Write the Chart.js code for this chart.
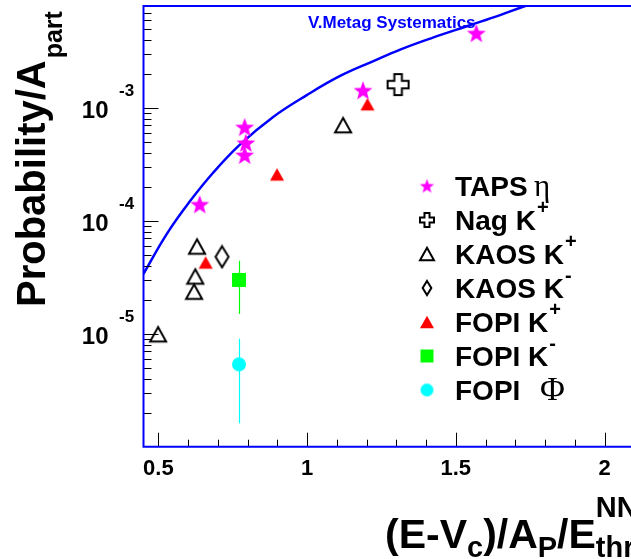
<!DOCTYPE html>
<html lang="en">
<head>
<meta charset="UTF-8">
<title>Production probability per participant</title>
<script src="https://cdn.jsdelivr.net/npm/chart.js"></script>
<style>
  html, body { margin: 0; padding: 0; background: #fff; overflow: hidden; }
  #wrap { width: 631px; height: 559px; overflow: hidden; }
  canvas { display: block; }
</style>
</head>
<body>
<div id="wrap"><canvas id="chart" width="700" height="559"></canvas></div>
<script>
// x = (E-Vc)/A_P/E_thr^NN, y = probability per participant
const tapsX = [0.639, 0.790, 0.794, 0.790, 1.188, 1.569];
const tapsY = [1.40e-4, 3.83e-4, 4.91e-4, 6.76e-4, 1.43e-3, 4.59e-3];
const nagX = [1.306];
const nagY = [1.61e-3];
const kaosKpX = [0.499, 0.620, 0.624, 0.630, 1.121];
const kaosKpY = [9.9e-6, 2.36e-5, 3.22e-5, 5.93e-5, 7.04e-4];
const kaosKmX = [0.714];
const kaosKmY = [4.81e-5];
const fopiKpX = [0.659, 0.899, 1.203];
const fopiKpY = [4.28e-5, 2.58e-4, 1.08e-3];
const fopiKmX = [0.771];
const fopiKmY = [3.0e-5];
const fopiKmLo = [1.50e-5];
const fopiKmHi = [4.43e-5];
const fopiPhiX = [0.771];
const fopiPhiY = [5.36e-6];
const fopiPhiLo = [1.61e-6];
const fopiPhiHi = [9.04e-6];

// systematics curve
const sysX = [0.450, 0.528, 0.606, 0.684, 0.775, 0.886, 0.999, 1.111, 1.223, 1.313, 1.423, 1.537, 1.649, 1.726, 1.817];
const sysY = [3.4e-5, 7.64e-5, 1.49e-4, 2.67e-4, 4.76e-4, 8.33e-4, 1.30e-3, 1.92e-3, 2.60e-3, 3.29e-3, 4.20e-3, 5.30e-3, 6.65e-3, 7.87e-3, 9.36e-3];

const xTicks = [0.5, 1, 1.5, 2];
const xTickLabels = ['0.5', '1', '1.5', '2'];
const yTicks = [1e-5, 1e-4, 1e-3];
const yTickExp = ['-5', '-4', '-3'];

const legendNames = ['TAPS', 'Nag K', 'KAOS K', 'KAOS K', 'FOPI K', 'FOPI K', 'FOPI'];
const legendSup = ['', '+', '+', '-', '+', '-', ''];
const legendGreek = ['\u03b7', '', '', '', '', '', '\u03a6'];

const SANS = '"Liberation Sans", Arial, Helvetica, sans-serif';
const SERIF = '"Liberation Serif", "Times New Roman", serif';

// marker images (ROOT-like symbols)
function marker(kind, size, color) {
  const c = document.createElement('canvas');
  const s = Math.ceil(size) + 4;
  c.width = s; c.height = s;
  const g = c.getContext('2d');
  const m = s / 2, r = size / 2;
  g.lineWidth = 2;
  g.strokeStyle = '#000';
  g.fillStyle = color;
  g.lineJoin = 'miter';
  g.beginPath();
  if (kind === 'star') {
    for (let i = 0; i < 10; i++) {
      const a = -Math.PI / 2 + i * Math.PI / 5;
      const rr = i % 2 ? r * 0.42 : r;
      g.lineTo(m + rr * Math.cos(a), m + rr * Math.sin(a) + r * 0.08);
    }
    g.closePath();
    g.fill();
  } else if (kind === 'cross') {
    const w = r * 0.36;
    const pts = [[-w, -r], [w, -r], [w, -w], [r, -w], [r, w], [w, w], [w, r], [-w, r], [-w, w], [-r, w], [-r, -w], [-w, -w]];
    pts.forEach(p => g.lineTo(m + p[0], m + p[1]));
    g.closePath();
    g.fillStyle = '#fff';
    g.fill();
    g.stroke();
  } else if (kind === 'triOpen' || kind === 'triFill') {
    const h = r * 0.9;
    g.moveTo(m, m - h);
    g.lineTo(m + r, m + h);
    g.lineTo(m - r, m + h);
    g.closePath();
    if (kind === 'triOpen') g.stroke(); else g.fill();
  } else if (kind === 'diamond') {
    const w = r * 0.62;
    g.moveTo(m, m - r);
    g.lineTo(m + w, m);
    g.lineTo(m, m + r);
    g.lineTo(m - w, m);
    g.closePath();
    g.stroke();
  } else if (kind === 'square') {
    g.rect(m - r, m - r, size, size);
    g.fill();
  } else if (kind === 'circle') {
    g.arc(m, m, r, 0, Math.PI * 2);
    g.fill();
  }
  return c;
}

const dataMarkers = [
  marker('star', 20, '#ff00ff'),
  marker('cross', 21, '#000'),
  marker('triOpen', 16, '#000'),
  marker('diamond', 21, '#000'),
  marker('triFill', 14, '#ff0000'),
  marker('square', 14, '#00ff00'),
  marker('circle', 14, '#00ffff')
];
const legendMarkers = [
  marker('star', 15, '#ff00ff'),
  marker('cross', 14, '#000'),
  marker('triOpen', 14, '#000'),
  marker('diamond', 14, '#000'),
  marker('triFill', 14, '#ff0000'),
  marker('square', 13, '#00ff00'),
  marker('circle', 13, '#00ffff')
];

const pts = (xs, ys) => xs.map((x, i) => ({ x, y: ys[i] }));

function scatterSet(xs, ys, img) {
  return { data: pts(xs, ys), pointStyle: img, pointRadius: 5, showLine: false };
}

// error bars for the FOPI K- and phi points
const errorBars = [
  { x: fopiKmX, lo: fopiKmLo, hi: fopiKmHi, color: '#00ff00' },
  { x: fopiPhiX, lo: fopiPhiLo, hi: fopiPhiHi, color: '#00ffff' }
];

const decor = {
  id: 'decor',
  beforeDatasetsDraw(chart) {
    const ctx = chart.ctx;
    const xs = chart.scales.x, ys = chart.scales.y;
    ctx.save();
    ctx.lineWidth = 1.2;
    errorBars.forEach(e => {
      ctx.strokeStyle = e.color;
      e.x.forEach((x, i) => {
        const px = Math.round(xs.getPixelForValue(x)) + 0.5;
        ctx.beginPath();
        ctx.moveTo(px, ys.getPixelForValue(e.lo[i]));
        ctx.lineTo(px, ys.getPixelForValue(e.hi[i]));
        ctx.stroke();
      });
    });
    ctx.fillStyle = '#0000ff';
    ctx.font = 'bold 17px ' + SANS;
    ctx.textBaseline = 'alphabetic';
    ctx.fillText('V.Metag Systematics', 308, 28);
    ctx.restore();
  },
  afterDraw(chart) {
    const ctx = chart.ctx;
    const a = chart.chartArea;
    const xs = chart.scales.x, ys = chart.scales.y;
    ctx.save();

    // ticks, drawn inward
    ctx.strokeStyle = '#000';
    ctx.lineWidth = 1;
    ctx.beginPath();
    for (let e = -6; e <= -3; e++) {
      for (let k = 1; k <= 9; k++) {
        const v = k * Math.pow(10, e);
        if (v <= ys.min * 1.0001 || v > ys.max) continue;
        const py = Math.round(ys.getPixelForValue(v)) + 0.5;
        ctx.moveTo(a.left, py);
        ctx.lineTo(a.left + (k === 1 ? 15 : 8), py);
      }
    }
    for (let i = 5; i <= 22; i++) {
      const v = i / 10;
      const px = Math.round(xs.getPixelForValue(v)) + 0.5;
      ctx.moveTo(px, a.bottom);
      ctx.lineTo(px, a.bottom - (i % 5 === 0 ? 14 : 7));
    }
    ctx.stroke();

    // frame
    ctx.strokeStyle = '#0000ff';
    ctx.lineWidth = 2;
    ctx.beginPath();
    ctx.moveTo(a.right + 10, a.top);
    ctx.lineTo(a.left, a.top);
    ctx.lineTo(a.left, a.bottom);
    ctx.lineTo(a.right + 10, a.bottom);
    ctx.stroke();

    // tick labels
    ctx.fillStyle = '#000';
    ctx.textBaseline = 'alphabetic';
    ctx.font = 'bold 22px ' + SANS;
    ctx.textAlign = 'center';
    xTicks.forEach((v, i) => ctx.fillText(xTickLabels[i], xs.getPixelForValue(v), 475));
    yTicks.forEach((v, i) => {
      const py = ys.getPixelForValue(v);
      ctx.font = 'bold 24px ' + SANS;
      ctx.textAlign = 'right';
      ctx.fillText('10', 108.5, py + 10.5);
      ctx.font = 'bold 17px ' + SANS;
      ctx.textAlign = 'left';
      ctx.fillText(yTickExp[i], 119, py - 12);
    });

    // y title
    ctx.save();
    ctx.translate(45, 307);
    ctx.rotate(-Math.PI / 2);
    ctx.textAlign = 'left';
    ctx.font = 'bold 40px ' + SANS;
    ctx.fillText('Probability/A', 0, 0);
    const w0 = ctx.measureText('Probability/A').width;
    ctx.font = 'bold 25px ' + SANS;
    ctx.fillText('part', w0 + 2, 17);
    ctx.restore();

    // x title
    const big = 'bold 41px ' + SANS, small = 'bold 29px ' + SANS;
    const base = 548;
    let x = 385;
    const put = (t, f, dy) => { ctx.font = f; ctx.fillText(t, x, base + dy); return ctx.measureText(t).width; };
    ctx.textAlign = 'left';
    x += put('(E-V', big, 0);
    x += put('c', small, 9);
    x += put(')/A', big, 0);
    x += put('P', small, 9);
    x += put('/E', big, 0);
    put('NN', small, -31);
    put('thr', small, 9);

    // legend
    const lx = 427, ly0 = 186, step = 34;
    legendNames.forEach((name, i) => {
      const cy = ly0 + i * step;
      const img = legendMarkers[i];
      ctx.drawImage(img, lx - img.width / 2, cy - img.height / 2);
      ctx.font = 'bold 28px ' + SANS;
      ctx.fillStyle = '#000';
      ctx.fillText(name, 455, cy + 10);
      const w = ctx.measureText(name).width;
      if (legendSup[i]) {
        ctx.font = 'bold 20px ' + SANS;
        ctx.fillText(legendSup[i], 455 + w + 1, cy - 6);
      }
      if (legendGreek[i]) {
        ctx.font = (i === 0 ? '31px ' : '34px ') + SERIF;
        ctx.fillText(legendGreek[i], i === 0 ? 534 : 540, cy + 10);
      }
    });
    ctx.restore();
  }
};

new Chart(document.getElementById('chart'), {
  type: 'scatter',
  data: {
    datasets: [
      scatterSet(tapsX, tapsY, dataMarkers[0]),
      scatterSet(nagX, nagY, dataMarkers[1]),
      scatterSet(kaosKpX, kaosKpY, dataMarkers[2]),
      scatterSet(kaosKmX, kaosKmY, dataMarkers[3]),
      scatterSet(fopiKpX, fopiKpY, dataMarkers[4]),
      scatterSet(fopiKmX, fopiKmY, dataMarkers[5]),
      scatterSet(fopiPhiX, fopiPhiY, dataMarkers[6]),
      {
        data: pts(sysX, sysY),
        showLine: true,
        borderColor: '#0000ff',
        borderWidth: 2.5,
        pointRadius: 0,
        tension: 0.4,
        fill: false
      }
    ]
  },
  options: {
    responsive: false,
    animation: false,
    devicePixelRatio: 1,
    layout: { padding: { left: 143.5, top: 4.7, right: 36, bottom: 112.3 } },
    scales: {
      x: { type: 'linear', min: 0.45, max: 2.2, display: false },
      y: { type: 'logarithmic', min: 1e-6, max: 8e-3, display: false }
    },
    plugins: { legend: { display: false }, tooltip: { enabled: false } }
  },
  plugins: [decor]
});
</script>
</body>
</html>
